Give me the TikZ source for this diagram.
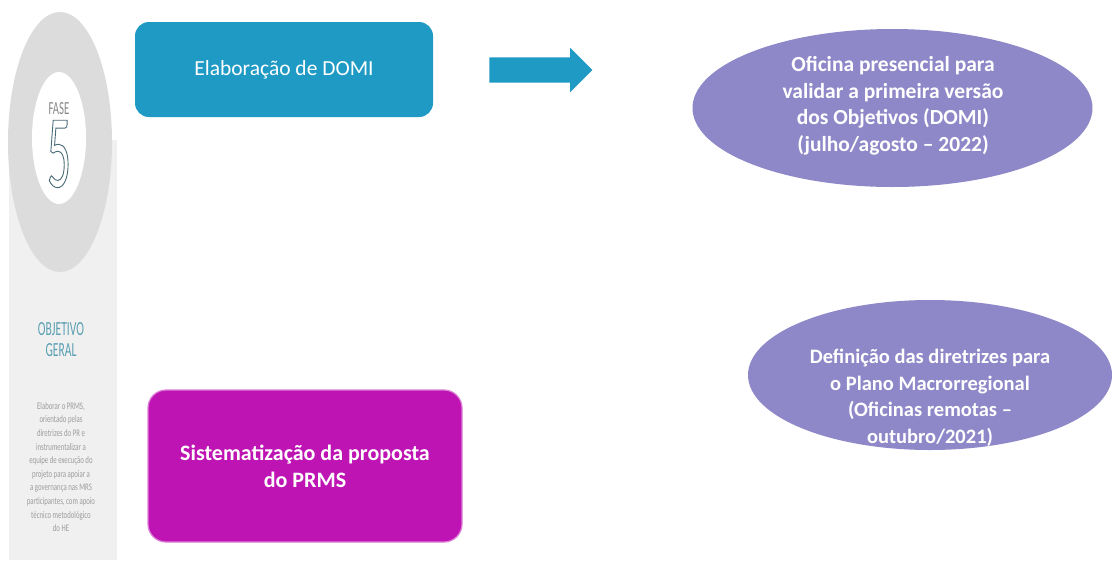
\documentclass[tikz,border=0pt]{standalone}
\usepackage{fontspec}
\setmainfont{Carlito}
\newfontfamily\narrowfont[FakeStretch=0.58]{Carlito}
\newfontfamily\tinyfont[FakeStretch=0.68]{Carlito}
\newfontfamily\fivefont[FakeStretch=0.45]{Carlito}
\usetikzlibrary{shapes.geometric,shapes.arrows}
\definecolor{bluebox}{HTML}{1E9AC4}
\definecolor{magbox}{HTML}{BF14B4}
\definecolor{lavender}{HTML}{8F88C8}
\definecolor{panelgray}{HTML}{F0F0F0}
\definecolor{ellgray}{HTML}{DCDCDC}
\definecolor{fasegray}{HTML}{8A8A8A}
\definecolor{fivecol}{HTML}{4A6B78}
\definecolor{objteal}{HTML}{5A9FB3}
\definecolor{smallgray}{HTML}{9C9C9C}
\tikzset{
  stepbox/.style={rounded corners=14pt, inner sep=0pt, align=center, text=white},
  ovalbox/.style={ellipse, fill=lavender, inner sep=0pt},
  ovaltext/.style={align=center, text=white, inner sep=0pt, font=\bfseries\fontsize{21.5}{26.5}\selectfont},
  paneltext/.style={inner sep=0pt, align=center}
}
\begin{document}
\begin{tikzpicture}[x=1pt,y=-1pt]
\useasboundingbox[fill=white] (0,0) rectangle (1116,560);
% left panel
\fill[panelgray] (9,140) rectangle (117,560);
\node[ellipse, fill=ellgray, minimum width=104, minimum height=260, inner sep=0pt] (phase) at (60,142) {};
\node[ellipse, fill=white, minimum width=54, minimum height=132, inner sep=0pt] (phasein) at (59,138) {};
\node[paneltext, text=fasegray, anchor=base, text height=12pt, text depth=0pt, font=\narrowfont\fontsize{18.5}{18.5}\selectfont] (fase) at (59,114) {FASE};
\node[paneltext, text=fivecol, anchor=base, text height=65pt, text depth=0pt, font=\fivefont\fontsize{104}{104}\selectfont] (five) at (59,187)
  {\special{pdf:literal direct 1 Tr 0.9 w}5\special{pdf:literal direct 0 Tr}};
\node[paneltext, text=objteal, font=\narrowfont\fontsize{20}{21}\selectfont] (obj) at (61,340) {OBJETIVO\\GERAL};
\node[paneltext, text=smallgray, font=\tinyfont\fontsize{10}{13.6}\selectfont] (objtxt) at (61,467)
  {Elaborar o PRMS,\\orientado pelas\\diretrizes do PR e\\instrumentalizar a\\equipe de execução do\\projeto para apoiar a\\a governança nas MRS\\participantes, com apoio\\técnico metodológico\\do HE};
% main boxes
\node[stepbox, fill=bluebox, minimum width=298, minimum height=95, font=\fontsize{21.5}{26}\selectfont] (domi) at (284,69.5) {Elaboração de DOMI};
\node[single arrow, fill=bluebox, inner xsep=0pt, inner ysep=12.5pt, minimum height=103, single arrow head extend=9.5pt, single arrow tip angle=90] (arrow) at (534.5,70) {};
\node[ovalbox, minimum width=400, minimum height=158] (oficina) at (892.5,108) {};
\node[ovaltext] (oficinat) at (893,106) {Oficina presencial para\\validar a primeira versão\\dos Objetivos (DOMI)\\(julho/agosto – 2022)};
\node[ovalbox, minimum width=364, minimum height=150] (diretriz) at (930,375) {};
\node[ovaltext, font=\bfseries\fontsize{20.5}{26.5}\selectfont] (diretrizt) at (930,398) {Definição das diretrizes para\\o Plano Macrorregional\\(Oficinas remotas –\\outubro/2021)};
\node[stepbox, fill=magbox, draw=magbox!55!white, line width=1.2pt, rounded corners=18pt, minimum width=314, minimum height=152, font=\bfseries\fontsize{22}{27}\selectfont] (prms) at (305,466) {Sistematização da proposta\\do PRMS};
\end{tikzpicture}
\end{document}
